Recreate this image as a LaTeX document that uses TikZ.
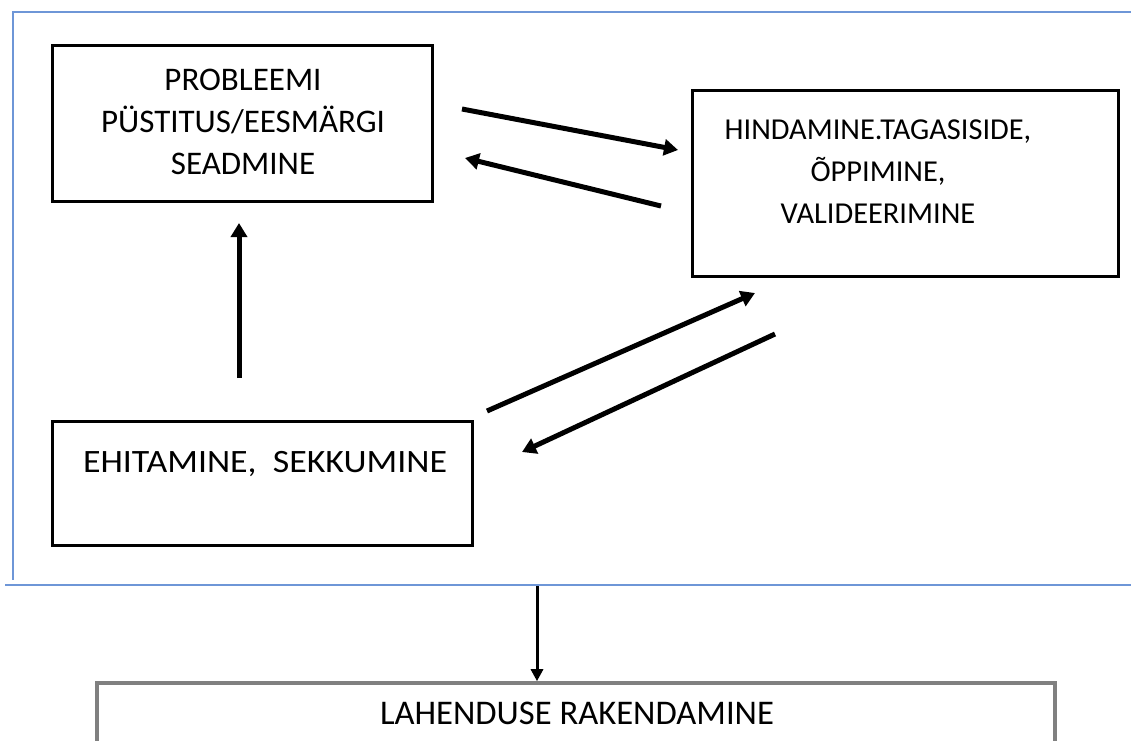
\documentclass[tikz,border=0pt]{standalone}
\usepackage{fontspec}
\setmainfont{Carlito}
\newfontfamily\widefont{Carlito}[FakeStretch=1.1]
\usetikzlibrary{arrows.meta}
\definecolor{frameblue}{RGB}{110,150,215}
\begin{document}
\begin{tikzpicture}[
        >={Triangle[length=7pt,width=8pt]},
        x=.5pt,y=-.5pt,
        box/.style={draw,line width=1.5pt,inner sep=0pt},
        txt/.style={align=center,font=\fontsize{16.5}{21}\selectfont},
        thick arrow/.style={->,line width=2.5pt},
        ]
        \clip (0,0) rectangle (1131,740);
        \fill[white] (0,0) rectangle (1131,740);
        \draw[frameblue,line width=.9pt] (1131,12) -- (13,12) -- (13,580);
        \draw[frameblue,line width=.9pt] (5,585) -- (1131,585);
        \node[box,minimum width=190pt,minimum height=78pt] (probleem) at (242,123) {};
        \node[txt] (probleemtxt) at (243,122) {PROBLEEMI\\PÜSTITUS/EESMÄRGI\\SEADMINE};
        \node[box,minimum width=213pt,minimum height=93pt] (hindamine) at (905,183) {};
        \node[txt,font=\fontsize{15.2}{21}\selectfont] (hindaminetxt) at (878,172) {HINDAMINE.TAGASISIDE,\\ÕPPIMINE,\\VALIDEERIMINE};
        \node[box,minimum width=210pt,minimum height=62pt] (ehitamine) at (262,483) {};
        \node[txt,font=\widefont\fontsize{16.3}{21}\selectfont] (ehitaminetxt) at (265,464) {EHITAMINE,\ \ SEKKUMINE};
        \node[box,draw=gray,line width=1.8pt,minimum width=479pt,minimum height=40pt] (lahendus) at (576,723) {};
        \node[txt,font=\fontsize{17.3}{21}\selectfont] (lahendustxt) at (577,713) {LAHENDUSE RAKENDAMINE};
        \coordinate (a1) at (462,109);
        \coordinate (a2) at (678,150);
        \coordinate (b1) at (661,206);
        \coordinate (b2) at (465,158);
        \coordinate (c1) at (239,378);
        \coordinate (c2) at (239,223);
        \coordinate (d1) at (487,411);
        \coordinate (d2) at (755,293);
        \coordinate (e1) at (775,334);
        \coordinate (e2) at (522,452);
        \coordinate (f1) at (537,586);
        \draw[thick arrow] (a1) to (a2);
        \draw[thick arrow] (b1) to (b2);
        \draw[thick arrow] (c1) to (c2);
        \draw[thick arrow] (d1) to (d2);
        \draw[thick arrow] (e1) to (e2);
        \draw[->,>={Triangle[length=6pt,width=6pt]},line width=1.5pt] (f1) to (f1 |- lahendus.north);
\end{tikzpicture}
\end{document}
